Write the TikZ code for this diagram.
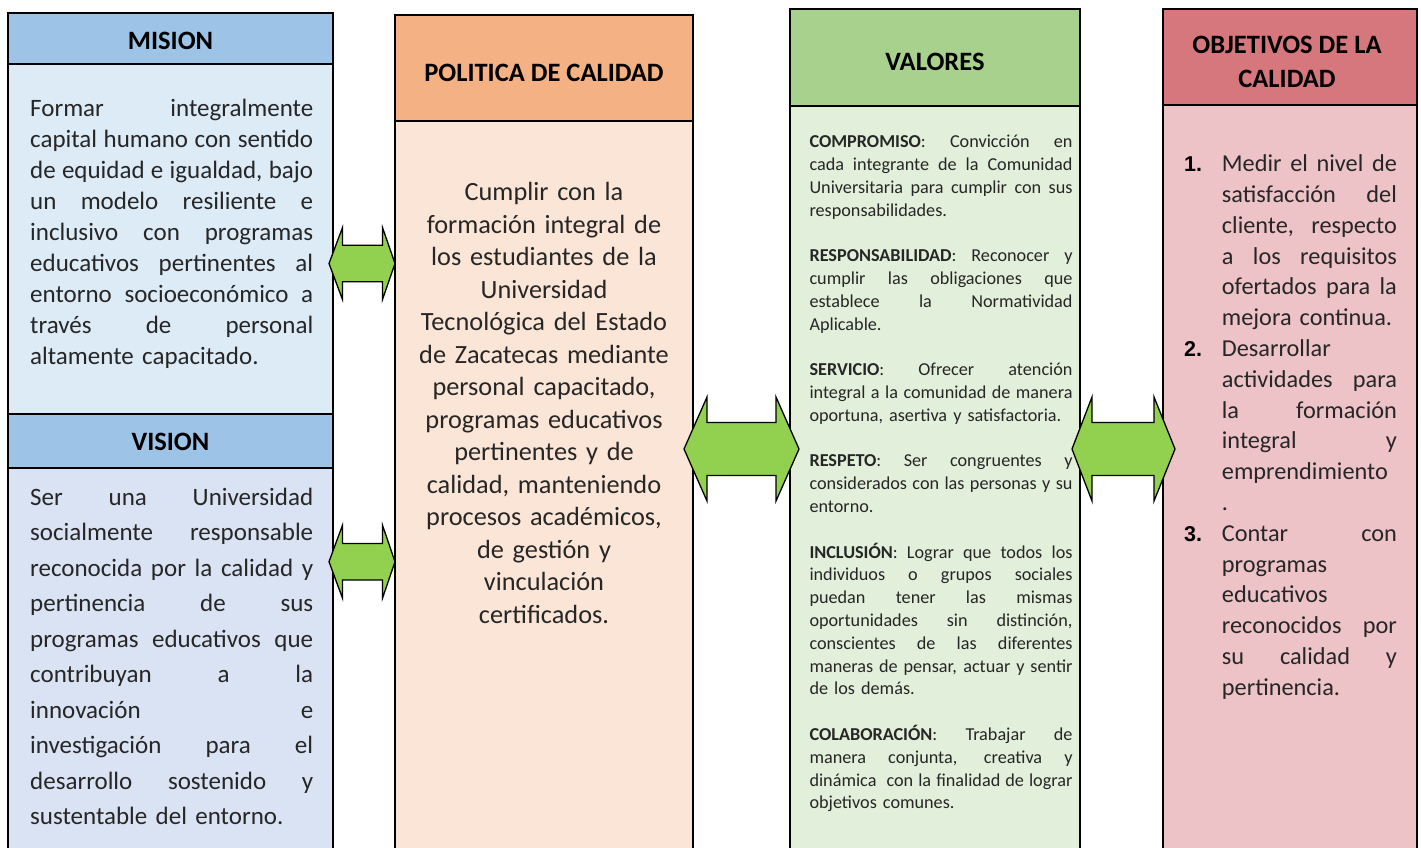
\documentclass[tikz,border=0pt]{standalone}
\usepackage{fontspec}
\setmainfont{Carlito}
\newfontfamily\numfont{Liberation Sans}
\definecolor{cabmision}{HTML}{9DC3E6}
\definecolor{fondomision}{HTML}{DDEBF7}
\definecolor{fondovision}{HTML}{DAE3F3}
\definecolor{cabpolitica}{HTML}{F4B183}
\definecolor{fondopolitica}{HTML}{FBE5D6}
\definecolor{cabvalores}{HTML}{A9D18E}
\definecolor{fondovalores}{HTML}{E2EFDA}
\definecolor{cabobjetivos}{HTML}{D6767D}
\definecolor{fondoobjetivos}{HTML}{EDC3C7}
\definecolor{verdeflecha}{HTML}{92D050}
\definecolor{texto}{HTML}{262626}
\newcommand\jl[1]{\makebox[\hsize][s]{\spaceskip0pt\xspaceskip0pt #1}\\}
\newcommand\lf[1]{\mbox{#1}\\}
\newcommand\flecha[7]{\draw[flechabox] (#1,#5)--(#2,#5-#7)--(#2,#5-#6)--(#3,#5-#6)--(#3,#5-#7)--(#4,#5)
	--(#3,#5+#7)--(#3,#5+#6)--(#2,#5+#6)--(#2,#5+#7)--cycle;}
\begin{document}
\begin{tikzpicture}[x=1pt,y=-1pt,line join=miter,
		caja/.style={draw=black,line width=1.6pt},
		flechabox/.style={draw=black,line width=1.3pt,fill=verdeflecha},
		titulo/.style={anchor=base,inner sep=0pt,align=center,font=\fontsize{26.5}{34}\selectfont\bfseries},
		cuerpo/.style={anchor=base west,inner sep=0pt,align=left,text=texto},
		numero/.style={anchor=base west,inner sep=0pt,font=\fontsize{21.5}{24}\selectfont\numfont\bfseries}]
	\useasboundingbox (0,0) rectangle (1421,847);
	\draw[caja,fill=fondomision] (8,64) rectangle (333,414);
	\draw[caja,fill=cabmision] (8,13) rectangle (333,64);
	\draw[caja,fill=fondovision] (8,468) rectangle (333,870);
	\draw[caja,fill=cabmision] (8,414) rectangle (333,468);
	\draw[caja,fill=fondopolitica] (395,121) rectangle (693,870);
	\draw[caja,fill=cabpolitica] (395,15) rectangle (693,121);
	\draw[caja,fill=fondovalores] (790,106) rectangle (1080,870);
	\draw[caja,fill=cabvalores] (790,9) rectangle (1080,106);
	\draw[caja,fill=fondoobjetivos] (1163,105) rectangle (1417,870);
	\draw[caja,fill=cabobjetivos] (1163,9) rectangle (1417,105);
	\node[titulo] (mision) at (170.5,49.3) {MISION};
	\node[titulo] (vision) at (170.5,450) {VISION};
	\node[titulo] (politica) at (544,81.7) {POLITICA DE CALIDAD};
	\node[titulo] (valores) at (935,70.7) {VALORES};
	\node[titulo] (objetivos) at (1287,87.3) {OBJETIVOS DE LA\\CALIDAD};
	\node[cuerpo,text width=283,font=\fontsize{25}{31}\selectfont] (txtmision) at (30,116.7) {%
		\jl{Formar integralmente}
		\jl{capital humano con sentido}
		\jl{de equidad e igualdad, bajo}
		\jl{un modelo resiliente e}
		\jl{inclusivo con programas}
		\jl{educativos pertinentes al}
		\jl{entorno socioeconómico a}
		\jl{través de personal}
		altamente capacitado.};
	\node[cuerpo,text width=283,font=\fontsize{25}{35.55}\selectfont] (txtvision) at (30,505) {%
		\jl{Ser una Universidad}
		\jl{socialmente responsable}
		\jl{reconocida por la calidad y}
		\jl{pertinencia de sus}
		\jl{programas educativos que}
		\jl{contribuyan a la}
		\jl{innovación e}
		\jl{investigación para el}
		\jl{desarrollo sostenido y}
		sustentable del entorno.};
	\node[anchor=base,inner sep=0pt,align=center,text width=290,text=texto,
		font=\fontsize{26.3}{32.5}\selectfont] (txtpolitica) at (544,200.7) {%
		Cumplir con la\\formación integral de\\los estudiantes de la\\Universidad\\
		Tecnológica del Estado\\de Zacatecas mediante\\personal capacitado,\\
		programas educativos\\pertinentes y de\\calidad, manteniendo\\
		procesos académicos,\\de gestión y\\vinculación\\certificados.};
	\node[cuerpo,text width=263,font=\fontsize{18.2}{22.8}\selectfont] (txtvalores) at (809.3,147.7) {%
		\jl{\textbf{COMPROMISO}: Convicción en}
		\jl{cada integrante de la Comunidad}
		\jl{Universitaria para cumplir con sus}
		\lf{responsabilidades.}[22.8pt]
		\jl{\textbf{RESPONSABILIDAD}: Reconocer y}
		\jl{cumplir las obligaciones que}
		\jl{establece la Normatividad}
		\lf{Aplicable.}[22.8pt]
		\jl{\textbf{SERVICIO}: Ofrecer atención}
		\jl{integral a la comunidad de manera}
		\lf{oportuna, asertiva y satisfactoria.}[22.8pt]
		\jl{\textbf{RESPETO}: Ser congruentes y}
		\jl{considerados con las personas y su}
		\lf{entorno.}[22.8pt]
		\jl{\textbf{INCLUSIÓN}: Lograr que todos los}
		\jl{individuos o grupos sociales}
		\jl{puedan tener las mismas}
		\jl{oportunidades sin distinción,}
		\jl{conscientes de las diferentes}
		\jl{maneras de pensar, actuar y sentir}
		\lf{de los demás.}[22.8pt]
		\jl{\textbf{COLABORACIÓN}: Trabajar de}
		\jl{manera conjunta, creativa y}
		\jl{dinámica\ \ con la finalidad de lograr}
		\mbox{objetivos comunes.}};
	\node[cuerpo,text width=175,font=\fontsize{24.3}{30.8}\selectfont] (txtobjetivos) at (1221.7,171.7) {%
		\jl{Medir el nivel de}
		\jl{satisfacción del}
		\jl{cliente, respecto}
		\jl{a los requisitos}
		\jl{ofertados para la}
		\lf{mejora continua.}
		\lf{Desarrollar}
		\jl{actividades para}
		\jl{la formación}
		\jl{integral y}
		\lf{emprendimiento}
		\lf{.}
		\jl{Contar con}
		\lf{programas}
		\lf{educativos}
		\jl{reconocidos por}
		\jl{su calidad y}
		\mbox{pertinencia.}};
	\node[numero] (num1) at (1184,171.7) {1.};
	\node[numero] (num2) at (1184,356.5) {2.};
	\node[numero] (num3) at (1184,541.3) {3.};
	\flecha{329}{342.5}{382.5}{395}{263.5}{18.3}{36}
	\flecha{329}{342.5}{382.5}{395}{561.7}{18.3}{36.5}
	\flecha{684}{707}{776}{799}{449}{26.5}{52}
	\flecha{1072}{1092}{1154}{1175}{449}{26.5}{52}
\end{tikzpicture}
\end{document}
